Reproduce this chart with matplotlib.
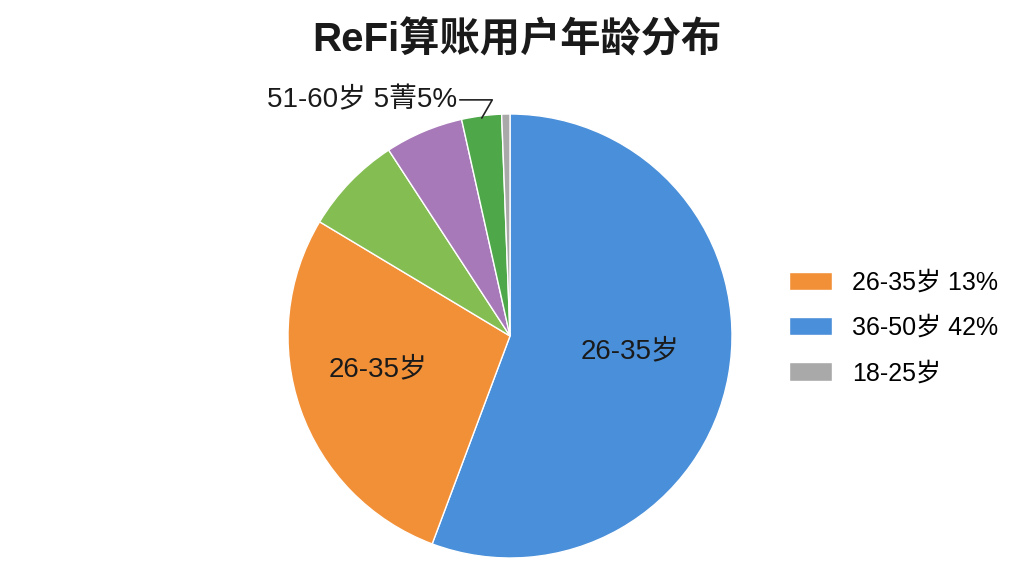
import matplotlib.pyplot as plt
import numpy as np

plt.rcParams['font.family'] = ['Liberation Sans', 'Noto Sans CJK SC', 'DejaVu Sans']

# slice order clockwise from 12 o'clock
shares = [55.7, 27.9, 7.2, 5.7, 2.9, 0.6]
colors = ['#4a8fd9', '#f29038', '#84bd52', '#a779b8', '#4ea84a', '#a9a9a9']
inner_labels = {0: '26-35岁', 1: '26-35岁'}

legend_order = [1, 0, 5]
legend_labels = ['26-35岁 13%', '36-50岁 42%', '18-25岁']

top_label = '51-60岁 5菁5%'
top_label_slice = 4

fig = plt.figure(figsize=(10.24, 5.76), dpi=100)
ax = fig.add_axes([288 / 1024, 18 / 576, 444 / 1024, 444 / 576])

wedges, _ = ax.pie(
    shares,
    colors=colors,
    startangle=90,
    counterclock=False,
    wedgeprops=dict(edgecolor='white', linewidth=1.0),
)
ax.set_xlim(-1, 1)
ax.set_ylim(-1, 1)
ax.set_aspect('equal')

# text inside the two big slices
label_xy = {0: (0.54, -0.07), 1: (-0.595, -0.15)}
for i, txt in inner_labels.items():
    ax.text(*label_xy[i], txt, ha='center', va='center',
            fontsize=20, color='#1a1a1a')

# callout for the small green slice
w = wedges[top_label_slice]
mid = np.deg2rad((w.theta1 + w.theta2) / 2)
ax.annotate(
    top_label,
    xy=(0.99 * np.cos(mid), 0.99 * np.sin(mid)),
    xytext=(457 / 1024, 1 - 113 / 576),
    textcoords='figure fraction',
    ha='right', va='bottom', fontsize=20, color='#1a1a1a',
    arrowprops=dict(arrowstyle='-', color='#222222', lw=1.2,
                    connectionstyle='angle,angleA=0,angleB=60,rad=0',
                    shrinkA=0, shrinkB=0),
)

fig.suptitle('ReFi算账用户年龄分布', x=0.505, y=0.965, fontsize=29, fontweight='bold',
             color='#1a1a1a')

fig.legend(
    [wedges[i] for i in legend_order],
    legend_labels,
    loc='center left',
    bbox_to_anchor=(766 / 1024, 1 - 328 / 576),
    frameon=False,
    fontsize=18,
    handlelength=1.75,
    handleheight=0.75,
    handletextpad=0.8,
    labelspacing=0.85,
)

fig.savefig('out.png', dpi=100, facecolor='white')
